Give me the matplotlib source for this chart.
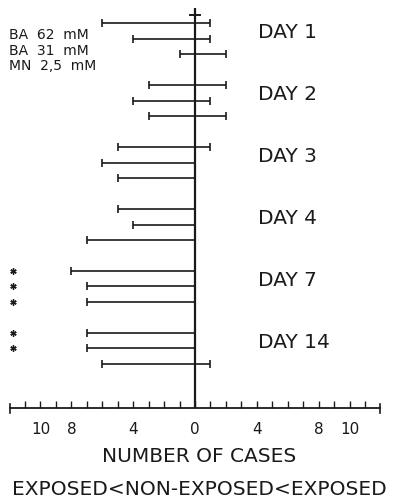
import matplotlib
matplotlib.use("Agg")
import matplotlib.pyplot as plt
import numpy as np

plt.rcParams['font.family'] = ['DejaVu Sans']

# ---- data ----
days = ["DAY 1", "DAY 2", "DAY 3", "DAY 4", "DAY 7", "DAY 14"]
series = ["BA  62  mM", "BA  31  mM", "MN  2,5  mM"]
# number of cases: exposed < non-exposed (left) and non-exposed < exposed (right)
left_ba62 = [6, 3, 5, 5, 8, 7]
left_ba31 = [4, 4, 6, 4, 7, 7]
left_mn = [1, 3, 5, 7, 7, 6]
right_ba62 = [1, 2, 1, 0, 0, 0]
right_ba31 = [1, 1, 0, 0, 0, 0]
right_mn = [2, 2, 0, 0, 0, 1]
signif_ba62 = [False, False, False, False, True, True]
signif_ba31 = [False, False, False, False, True, True]
signif_mn = [False, False, False, False, True, False]
tick_values = [-10, -8, -4, 0, 4, 8, 10]
tick_labels = ["10", "8", "4", "0", "4", "8", "10"]

lefts = [left_ba62, left_ba31, left_mn]
rights = [right_ba62, right_ba31, right_mn]
signifs = [signif_ba62, signif_ba31, signif_mn]

W, H = 399, 498
fig = plt.figure(figsize=(W / 100, H / 100), dpi=100)
fig.patch.set_facecolor('white')
ax = fig.add_axes([0, 90 / H, 1, 400 / H])
ax.set_facecolor('none')

ink = '#1a1a1a'
x0px = 195
ux = 15.45
ax.set_xlim(-x0px / ux, (W - x0px) / ux)
ax.set_ylim(24.84, -0.97)

day_step = 4
for d, day in enumerate(days):
    for s in range(len(series)):
        y = d * day_step + s
        ax.errorbar(0, y, xerr=[[lefts[s][d]], [rights[s][d]]], fmt='none',
                    ecolor=ink, elinewidth=1.2, capsize=3.2, capthick=1.2)
        if signifs[s][d]:
            ax.plot(-11.8, y, marker=(6, 2, 0), ms=4.5, mew=1.0, color=ink,
                    clip_on=False)
    ax.text(4.1, d * day_step + 0.6, day, fontsize=14.5, color=ink,
            ha='left', va='center')

# central axis with top cap
ax.axvline(0, color=ink, lw=1.6)
ax.plot([-0.35, 0.35], [-0.5, -0.5], color=ink, lw=1.4)

# legend text
for s, name in enumerate(series):
    ax.text(-12.05, 0.8 + s * 1.0, name, fontsize=10, color=ink,
            ha='left', va='center')

for sp in ['top', 'left', 'right']:
    ax.spines[sp].set_visible(False)
ax.spines['bottom'].set_bounds(-12, 12)
ax.spines['bottom'].set_linewidth(1.3)
ax.spines['bottom'].set_color(ink)
ax.set_yticks([])
ax.set_xticks(tick_values)
ax.set_xticklabels(tick_labels)
ax.set_xticks(np.arange(-11, 12), minor=True)
ax.tick_params(axis='x', which='both', direction='in', length=5, width=1.0,
               color=ink, labelsize=11, labelcolor=ink, pad=10)
for xe in (-12, 12):
    ax.plot([xe, xe], [24.55, 25.15], color=ink, lw=1.2, clip_on=False)

ax.set_xlabel("NUMBER OF CASES", fontsize=14.5, color=ink, labelpad=7)
fig.text(0.5, 1 - 489 / H, "EXPOSED<NON-EXPOSED<EXPOSED", fontsize=14.5,
         color=ink, ha='center', va='center')

fig.savefig("out.png", dpi=100)
